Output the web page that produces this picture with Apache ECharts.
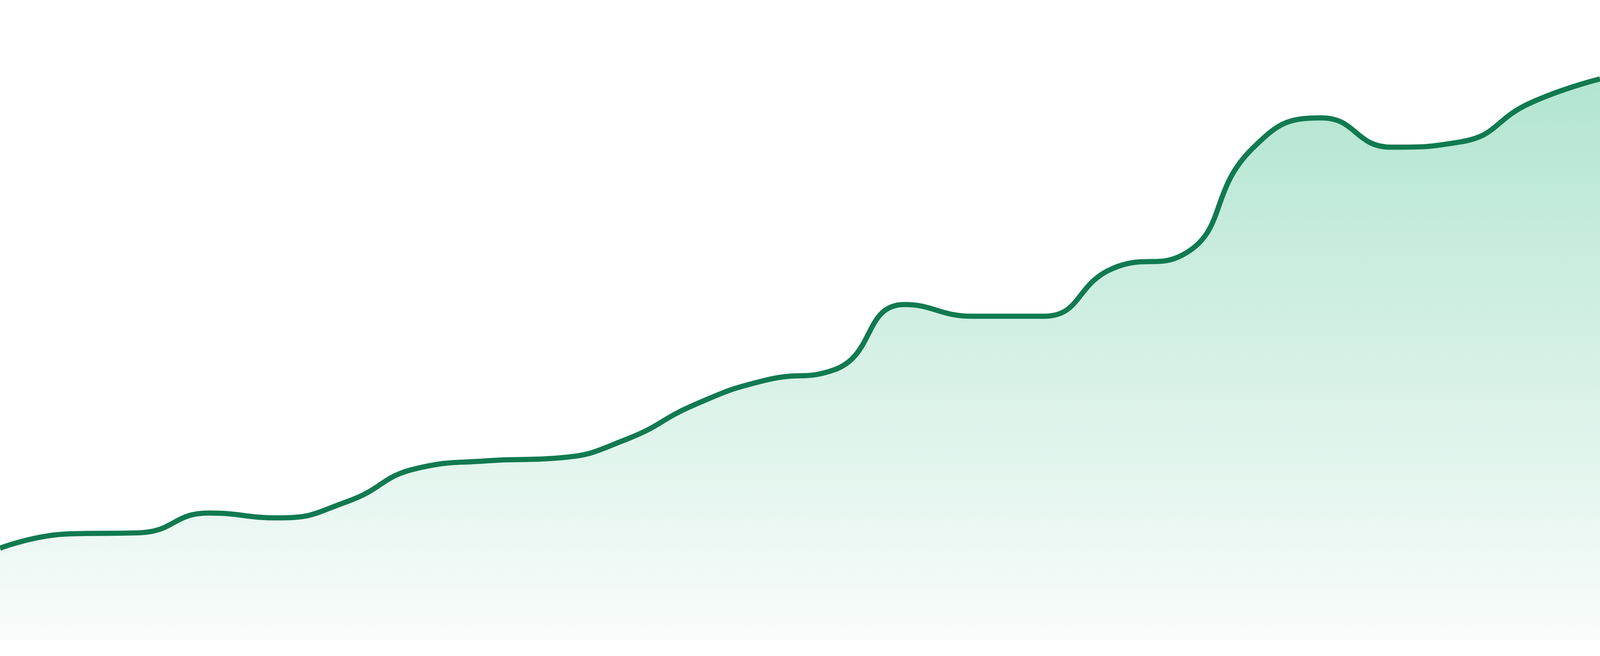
<!DOCTYPE html>
<html>
<head>
<meta charset="utf-8">
<title>Area trend</title>
<script src="https://cdn.jsdelivr.net/npm/echarts@6/dist/echarts.min.js"></script>
<style>
  html, body { margin: 0; padding: 0; background: #ffffff; overflow: hidden; }
  #chart { width: 100vw; height: 100vh; }
</style>
</head>
<body>
<div id="chart"></div>
<script>
const categories = ['P1','P2','P3','P4','P5','P6','P7','P8','P9','P10','P11','P12',
                    'P13','P14','P15','P16','P17','P18','P19','P20','P21','P22','P23','P24'];
const values = [17.2, 19.9, 20.1, 23.8, 22.9, 26.0, 32.2, 33.6, 34.1, 37.6, 44.2, 48.7,
                50.7, 62.9, 60.7, 60.7, 69.7, 72.2, 92.1, 97.9, 92.4, 93.4, 100.7, 105.2];
const yMin = 0;
const yMax = 120;

// scale design sizes (drawn for a 4800px-wide canvas) to the actual CSS viewport
const s = window.innerWidth / 4800;

const chart = echarts.init(document.getElementById('chart'), null, { renderer: 'canvas' });
chart.setOption({
  animation: false,
  backgroundColor: '#ffffff',
  grid: { left: 0, right: 0, top: 0, bottom: 48 * s },
  xAxis: {
    type: 'category',
    data: categories,
    boundaryGap: false,
    show: false
  },
  yAxis: {
    type: 'value',
    min: yMin,
    max: yMax,
    show: false
  },
  series: [{
    type: 'line',
    data: values,
    smooth: true,
    showSymbol: false,
    lineStyle: { color: '#117a50', width: 15.5 * s },
    itemStyle: { color: '#117a50' },
    areaStyle: {
      opacity: 1,
      color: new echarts.graphic.LinearGradient(0, 0, 0, 1, [
        { offset: 0, color: '#b2e5d0' },
        { offset: 1, color: '#f9fcfb' }
      ])
    }
  }]
});
window.addEventListener('resize', () => chart.resize());
</script>
</body>
</html>
